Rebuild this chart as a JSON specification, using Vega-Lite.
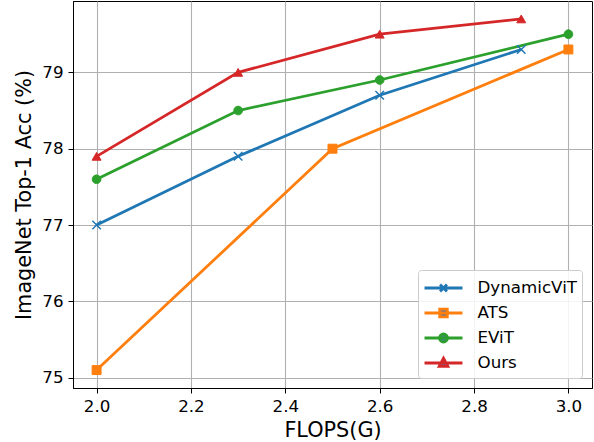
{
  "$schema": "https://vega.github.io/schema/vega-lite/v6.json",
  "width": 519,
  "height": 387,
  "autosize": {"type": "none"},
  "padding": {"left": 73, "top": 1, "right": 2, "bottom": 54},
  "background": "white",
  "config": {
    "view": {"stroke": "black", "strokeWidth": 1},
    "axis": {
      "labelFont": "DejaVu Sans", "labelFontSize": 16.7, "labelColor": "black",
      "titleFont": "DejaVu Sans", "titleFontSize": 20.8, "titleFontWeight": "normal", "titleColor": "black",
      "domainColor": "black", "domainWidth": 1, "tickColor": "black", "tickSize": 5, "tickWidth": 1,
      "gridColor": "#b0b0b0", "gridWidth": 1.1, "labelPadding": 5
    },
    "legend": {
      "labelFont": "DejaVu Sans", "labelFontSize": 16.7, "labelColor": "black",
      "strokeColor": "#cccccc", "fillColor": "rgba(255,255,255,0.85)", "cornerRadius": 3,
      "padding": 5, "symbolStrokeWidth": 2.8,
      "rowPadding": 2, "offset": 10
    }
  },
  "data": {"values": [
    {"method": "DynamicViT", "flops": 2.0, "acc": 77.0},
    {"method": "DynamicViT", "flops": 2.3, "acc": 77.9},
    {"method": "DynamicViT", "flops": 2.6, "acc": 78.7},
    {"method": "DynamicViT", "flops": 2.9, "acc": 79.3},
    {"method": "ATS", "flops": 2.0, "acc": 75.1},
    {"method": "ATS", "flops": 2.5, "acc": 78.0},
    {"method": "ATS", "flops": 3.0, "acc": 79.3},
    {"method": "EViT", "flops": 2.0, "acc": 77.6},
    {"method": "EViT", "flops": 2.3, "acc": 78.5},
    {"method": "EViT", "flops": 2.6, "acc": 78.9},
    {"method": "EViT", "flops": 3.0, "acc": 79.5},
    {"method": "Ours", "flops": 2.0, "acc": 77.9},
    {"method": "Ours", "flops": 2.3, "acc": 79.0},
    {"method": "Ours", "flops": 2.6, "acc": 79.5},
    {"method": "Ours", "flops": 2.9, "acc": 79.7}
  ]},
  "encoding": {
    "x": {"field": "flops", "type": "quantitative",
      "scale": {"domain": [1.95, 3.05], "nice": false, "zero": false},
      "axis": {"title": "FLOPS(G)", "values": [2.0, 2.2, 2.4, 2.6, 2.8, 3.0], "format": ".1f", "titlePadding": 6}},
    "y": {"field": "acc", "type": "quantitative",
      "scale": {"domain": [74.865, 79.935], "nice": false, "zero": false},
      "axis": {"title": "ImageNet Top-1 Acc (%)", "values": [75, 76, 77, 78, 79], "titlePadding": 7}}
  },
  "layer": [
    {
      "mark": {"type": "line", "strokeWidth": 2.8},
      "encoding": {
        "color": {"field": "method", "type": "nominal",
          "scale": {"domain": ["DynamicViT", "ATS", "EViT", "Ours"], "range": ["#1f77b4", "#ff7f0e", "#2ca02c", "#d62728"]},
          "legend": {"title": null, "orient": "bottom-right", "symbolSize": 529, "symbolOffset": 7.5, "labelOffset": 21, "symbolStrokeWidth": 2.8, "symbolOpacity": 1}}
      }
    },
    {
      "transform": [{"filter": "datum.method === 'DynamicViT'"}],
      "mark": {"type": "point", "shape": "M-1,-1L1,1M-1,1L1,-1", "filled": false, "size": 72, "strokeWidth": 1.5, "color": "#1f77b4", "opacity": 1}
    },
    {
      "transform": [{"filter": "datum.method === 'ATS'"}],
      "mark": {"type": "point", "shape": "square", "filled": true, "size": 80, "stroke": "#ff7f0e", "strokeWidth": 1, "color": "#ff7f0e", "opacity": 1}
    },
    {
      "transform": [{"filter": "datum.method === 'EViT'"}],
      "mark": {"type": "point", "shape": "circle", "filled": true, "size": 75, "stroke": "#2ca02c", "strokeWidth": 1, "color": "#2ca02c", "opacity": 1}
    },
    {
      "transform": [{"filter": "datum.method === 'Ours'"}],
      "mark": {"type": "point", "shape": "triangle-up", "filled": true, "size": 80, "stroke": "#d62728", "strokeWidth": 1, "color": "#d62728", "opacity": 1}
    },
    {
      "transform": [{"filter": "datum.flops > 100"}],
      "mark": {"type": "point", "filled": true, "opacity": 1},
      "encoding": {
        "shape": {"field": "method", "type": "nominal",
          "scale": {"domain": ["DynamicViT", "ATS", "EViT", "Ours"], "range": [
            "M-1.65,0H1.65M-0.3,-0.3L0.3,0.3M-0.3,0.3L0.3,-0.3",
            "M-1.65,0H1.65M-0.33,-0.33H0.33V0.33H-0.33Z",
            "M-1.65,0H1.65M-0.35,0A0.35,0.35,0,1,1,0.35,0A0.35,0.35,0,1,1,-0.35,0Z",
            "M-1.65,0H1.65M0,-0.42L0.38,0.3H-0.38Z"
          ]},
          "legend": {"title": null}}
      }
    }
  ]
}
